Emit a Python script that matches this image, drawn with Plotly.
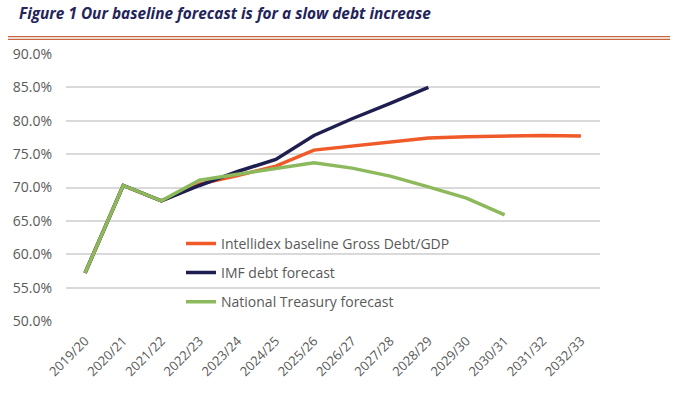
import plotly.graph_objects as go

years = ["2019/20", "2020/21", "2021/22", "2022/23", "2023/24", "2024/25", "2025/26",
         "2026/27", "2027/28", "2028/29", "2029/30", "2030/31", "2031/32", "2032/33"]
intellidex = [57.2, 70.3, 68.0, 70.5, 71.8, 73.2, 75.6, 76.2, 76.9, 77.4, 77.6, 77.7, 77.8, 77.7]
imf = [57.2, 70.3, 68.0, 70.3, 72.4, 74.2, 77.8, 80.3, 82.6, 85.0]
treasury = [57.2, 70.3, 68.0, 71.1, 72.0, 72.9, 73.7, 72.9, 71.7, 70.1, 68.4, 65.9]
y_ticks = [50, 55, 60, 65, 70, 75, 80, 85, 90]

W, H = 676, 395
L, R, T, B = 66, 76, 54, 74
pw = W - L - R
ph = H - T - B


def px_x(x):  # window x -> paper x
    return (x - L) / pw


def px_y(y):  # window y -> paper y
    return 1 - (y - T) / ph


fig = go.Figure()
series = [
    ("Intellidex baseline Gross Debt/GDP", intellidex, "#ef5a28"),
    ("IMF debt forecast", imf, "#1f1e50"),
    ("National Treasury forecast", treasury, "#8cb95b"),
]
for i, (name, vals, col) in enumerate(series):
    fig.add_trace(go.Scatter(
        x=years[:len(vals)], y=vals, mode="lines", name=name,
        line=dict(color=col, width=3.5), legendgroup=str(i),
    ))

fig.update_layout(
    width=W, height=H,
    margin=dict(l=L, r=R, t=T, b=B),
    plot_bgcolor="white", paper_bgcolor="white",
    font=dict(family="Open Sans", color="#595959"),
    showlegend=True,
    legend=dict(x=px_x(181), y=0.012, xanchor="left", yanchor="bottom",
                bgcolor="rgba(0,0,0,0)", font=dict(size=14, color="#595959"),
                tracegroupgap=8, traceorder="grouped"),
    annotations=[dict(
        text="<b><i>Figure 1 Our baseline forecast is for a slow debt increase</i></b>",
        xref="paper", yref="paper", x=px_x(17), y=px_y(13),
        xanchor="left", yanchor="middle", showarrow=False,
        font=dict(size=15.4, color="#23245a", family="Open Sans"),
    )],
    shapes=[
        dict(type="line", xref="paper", yref="paper",
             x0=px_x(8), x1=px_x(670), y0=px_y(yy), y1=px_y(yy),
             line=dict(color="#c8663f", width=1.3))
        for yy in (36.7, 39.4)
    ],
)
fig.update_xaxes(
    type="category", categoryorder="array", categoryarray=years,
    range=[-0.5, len(years) - 0.5], showgrid=False, zeroline=False,
    showline=False, ticks="", tickangle=-45, automargin=False,
    ticklabelstandoff=9,
    tickfont=dict(size=13, color="#595959"),
)
fig.update_yaxes(
    range=[50, 90], tickvals=y_ticks,
    ticktext=[f"{v:.1f}%" for v in y_ticks],
    showgrid=True, gridcolor="#d9d9d9", gridwidth=1.5, zeroline=False,
    showline=False, ticks="", automargin=False, ticklabelstandoff=13,
    tickfont=dict(size=14, color="#595959"),
)
fig.write_html("out.html", config={"displayModeBar": False},
               post_script="document.body.style.margin='0';")
